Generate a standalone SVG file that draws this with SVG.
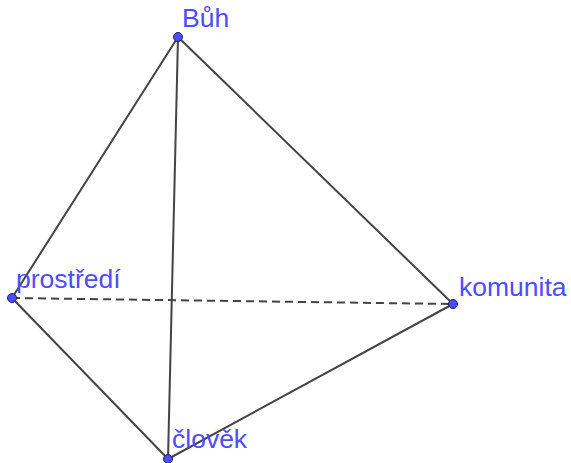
<svg xmlns="http://www.w3.org/2000/svg" width="571" height="463" viewBox="0 0 571 463">
<style>
.e{stroke:#444;stroke-width:2;fill:none;stroke-linecap:round}
.d{stroke-dasharray:8 5;stroke-linecap:butt}
.p{fill:#4d4dff;stroke:#1a1a66;stroke-width:1}
.t{fill:#4d4dff;font-family:"Liberation Sans",Arial,sans-serif;font-size:26.5px}
</style>
<rect width="571" height="463" fill="#fff"/>
<g id="connectors">
<line class="e" x1="178" y1="37" x2="12" y2="298"/>
<line class="e" x1="178" y1="37" x2="453" y2="304"/>
<line class="e" x1="178" y1="37" x2="168" y2="459"/>
<line class="e" x1="12" y1="298" x2="168" y2="459"/>
<line class="e" x1="168" y1="459" x2="453" y2="304"/>
<line class="e d" x1="12" y1="298" x2="453" y2="304"/>
</g>
<g id="buh"><circle class="p" cx="178" cy="37" r="4.5"/><text class="t" x="182" y="27">Bůh</text></g>
<g id="prostredi"><circle class="p" cx="12" cy="298" r="4.5"/><text class="t" x="16" y="288">prostředí</text></g>
<g id="komunita"><circle class="p" cx="453" cy="304" r="4.5"/><text class="t" x="459" y="296">komunita</text></g>
<g id="clovek"><circle class="p" cx="168" cy="459" r="4.5"/><text class="t" x="172" y="448">člověk</text></g>
</svg>
